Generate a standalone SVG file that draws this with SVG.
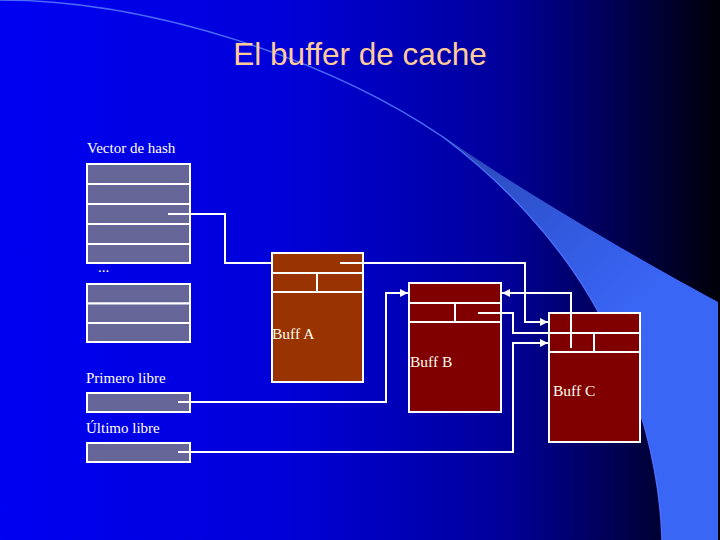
<svg xmlns="http://www.w3.org/2000/svg" width="720" height="540" viewBox="0 0 720 540">
<defs>
<linearGradient id="bg" x1="0" y1="0" x2="1" y2="0">
<stop offset="0" stop-color="#0000f2"/>
<stop offset="0.4" stop-color="#0000d8"/>
<stop offset="0.7" stop-color="#00009a"/>
<stop offset="0.86" stop-color="#000050"/>
<stop offset="1" stop-color="#000008"/>
</linearGradient>
<linearGradient id="blade" gradientUnits="userSpaceOnUse" x1="443" y1="137" x2="620" y2="320">
<stop offset="0" stop-color="#2a46b0"/>
<stop offset="0.55" stop-color="#3158dc"/>
<stop offset="1" stop-color="#3a66f5"/>
</linearGradient>
<marker id="arr" markerUnits="userSpaceOnUse" markerWidth="8" markerHeight="8" refX="8" refY="4" orient="auto">
<path d="M0,0 L8,4 L0,8 Z" fill="#ffffff"/>
</marker>
<style>
.cell{fill:#666699;stroke:#ffffff;stroke-width:2}
.buffA{fill:#993300;stroke:#ffffff;stroke-width:2}
.buff{fill:#800000;stroke:#ffffff;stroke-width:2}
.div{stroke:#ffffff;stroke-width:2;fill:none}
.conn{stroke:#ffffff;stroke-width:2;fill:none}
.lbl{font-family:"Liberation Serif","Times New Roman",serif;font-size:15px;fill:#ffffff}
.blbl{font-family:"Liberation Serif","Times New Roman",serif;font-size:15.5px;fill:#fffff0}
.title{font-family:"Liberation Sans",Arial,sans-serif;font-size:31.5px;fill:#ffcc99}
</style>
</defs>
<rect x="0" y="0" width="720" height="540" fill="url(#bg)"/>
<path d="M443,136 C520,190 640,260 718,302 L718,540 L662,540 C660,470 640,390 600,315 C560,240 500,180 443,137 Z" fill="url(#blade)"/>
<path d="M0,0 C150,0 330,60 443,137 C500,180 560,240 600,315 C640,390 660,470 662,540" fill="none" stroke="#4a6cf8" stroke-width="1.5"/>
<text class="title" x="360" y="65" text-anchor="middle">El buffer de cache</text>

<g id="hash-vector">
<text class="lbl" x="87" y="153">Vector de hash</text>
<rect class="cell" x="87" y="164" width="103" height="20"/>
<rect class="cell" x="87" y="184" width="103" height="20"/>
<rect class="cell" x="87" y="204" width="103" height="20"/>
<rect class="cell" x="87" y="224" width="103" height="20"/>
<rect class="cell" x="87" y="244" width="103" height="19"/>
<text class="lbl" x="98" y="272" font-size="8">...</text>
<rect class="cell" x="87" y="284" width="103" height="19.5"/>
<rect class="cell" x="87" y="303.5" width="103" height="19.5"/>
<rect class="cell" x="87" y="323" width="103" height="19"/>
</g>

<g id="primero-libre">
<text class="lbl" x="86" y="383">Primero libre</text>
<rect class="cell" x="87" y="393" width="103" height="19"/>
</g>

<g id="ultimo-libre">
<text class="lbl" x="86" y="433">Último libre</text>
<rect class="cell" x="87" y="443" width="103" height="19"/>
</g>

<g id="buff-a">
<rect class="buffA" x="272" y="253" width="91" height="129"/>
<path class="div" d="M272,273 H363 M272,292 H363 M317,273 V292"/>
<text class="blbl" x="272" y="339">Buff A</text>
</g>

<g id="buff-b">
<rect class="buff" x="409" y="283" width="92" height="129"/>
<path class="div" d="M409,303 H501 M409,322 H501 M455,303 V322"/>
<text class="blbl" x="410" y="367">Buff B</text>
</g>

<g id="buff-c">
<rect class="buff" x="549" y="313" width="91" height="129"/>
<path class="div" d="M549,333 H640 M549,352 H640 M594,333 V352"/>
<text class="blbl" x="553" y="396">Buff C</text>
</g>

<g id="connectors">
<path class="conn" d="M168,214 H225 V263 H272"/>
<path class="conn" d="M340,263 H525 V322 H548" marker-end="url(#arr)"/>
<path class="conn" d="M178,402 H386 V293 H408" marker-end="url(#arr)"/>
<path class="conn" d="M478,313 H513 V333 H549"/>
<path class="conn" d="M571,348 V293 H502" marker-end="url(#arr)"/>
<path class="conn" d="M178,452 H513 V343 H548" marker-end="url(#arr)"/>
</g>
</svg>
